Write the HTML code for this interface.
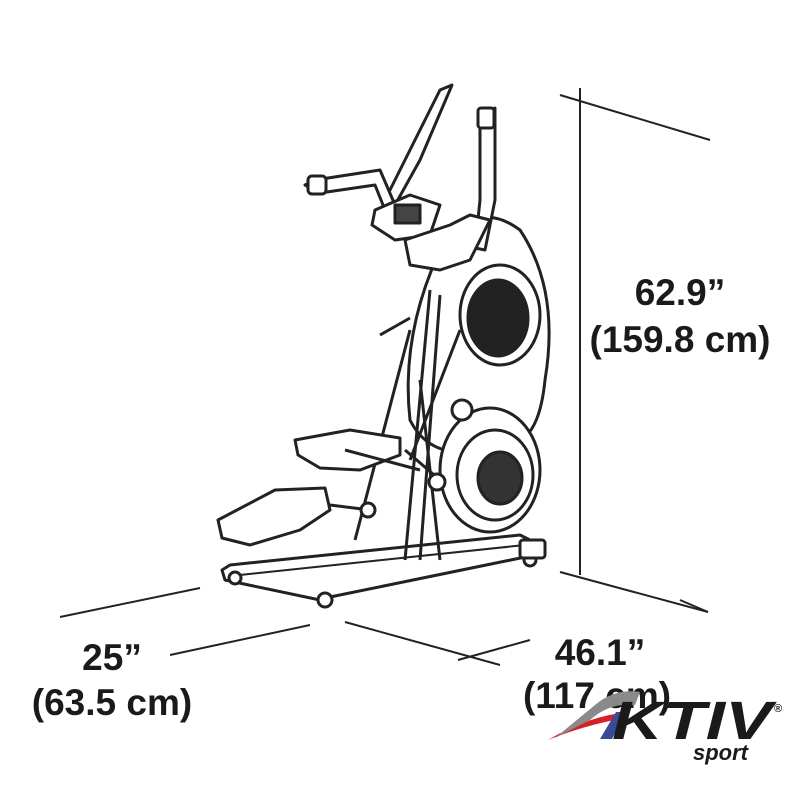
<!DOCTYPE html>
<html><head><style>
body{margin:0;background:#fff;}
svg{display:block}
text{font-family:"Liberation Sans",sans-serif;font-weight:bold;fill:#1a1a1a}
</style></head><body>
<svg width="800" height="800" viewBox="0 0 800 800" xmlns="http://www.w3.org/2000/svg">
<g stroke="#222" stroke-width="2" fill="none">
<line x1="580" y1="88" x2="580" y2="575"/>
<line x1="560" y1="95" x2="710" y2="140"/>
<line x1="560" y1="572" x2="708" y2="612"/>
<line x1="680" y1="600" x2="708" y2="612"/>
<line x1="345" y1="622" x2="500" y2="665"/>
<line x1="458" y1="660" x2="530" y2="640"/>
<line x1="60" y1="617" x2="200" y2="588"/>
<line x1="170" y1="655" x2="310" y2="625"/>
</g>
<g stroke="#222" stroke-width="3" fill="#fff" stroke-linejoin="round">
<polygon points="222,570 230,565 520,535 540,545 535,555 330,597 320,600 225,580"/>
<line x1="240" y1="575" x2="525" y2="545" stroke-width="2"/>
<circle cx="325" cy="600" r="7"/><circle cx="235" cy="578" r="6"/><circle cx="530" cy="560" r="6"/>
<rect x="520" y="540" width="25" height="18" rx="3"/>
<path d="M445 240 Q480 200 520 230 Q560 290 545 380 Q540 430 520 440 L480 450 Q430 460 410 420 Q400 330 445 240 Z"/>
<ellipse cx="500" cy="315" rx="40" ry="50"/>
<ellipse cx="498" cy="318" rx="30" ry="38" fill="#222"/>
<ellipse cx="490" cy="470" rx="50" ry="62"/>
<ellipse cx="495" cy="475" rx="38" ry="45"/>
<ellipse cx="500" cy="478" rx="22" ry="26" fill="#333"/>
<line x1="430" y1="290" x2="405" y2="560"/>
<line x1="440" y1="295" x2="420" y2="560"/>
<line x1="420" y1="380" x2="440" y2="560"/>
<line x1="460" y1="330" x2="410" y2="460"/>
<line x1="410" y1="330" x2="355" y2="540"/>
<line x1="380" y1="335" x2="410" y2="318"/>
<line x1="405" y1="450" x2="440" y2="480"/>
<circle cx="437" cy="482" r="8"/>
<circle cx="462" cy="410" r="10"/>
<path d="M440 90 L452 85 L420 160 L395 205 L385 200 L410 150 Z"/>
<path d="M305 185 L315 180 L380 170 L395 205 L385 210 L375 185 L320 193 Z"/>
<rect x="308" y="176" width="18" height="18" rx="4"/>
<path d="M480 115 L495 108 L495 200 L485 250 L475 248 L480 200 Z"/>
<rect x="478" y="108" width="16" height="20" rx="3"/>
<polygon points="375,210 410,195 440,205 430,235 395,240 372,225"/>
<rect x="395" y="205" width="25" height="18" fill="#444"/>
<path d="M405 240 L450 225 L470 215 L490 220 L470 260 L440 270 L410 265 Z"/>
<path d="M295 440 L350 430 L400 438 L400 455 L360 470 L320 468 L298 455 Z"/>
<path d="M218 520 L275 490 L325 488 L330 510 L300 530 L250 545 L222 538 Z"/>
<line x1="330" y1="505" x2="370" y2="510"/>
<circle cx="368" cy="510" r="7"/>
<line x1="345" y1="450" x2="420" y2="470"/>
</g>
<text x="680" y="305" font-size="37" font-weight="900" text-anchor="middle">62.9”</text>
<text x="680" y="352" font-size="37" font-weight="900" text-anchor="middle">(159.8 cm)</text>
<text x="112" y="670" font-size="37" font-weight="900" text-anchor="middle">25”</text>
<text x="112" y="715" font-size="37" font-weight="900" text-anchor="middle">(63.5 cm)</text>
<text x="600" y="665" font-size="37" font-weight="900" text-anchor="middle">46.1”</text>
<text x="597" y="708" font-size="37" font-weight="900" text-anchor="middle">(117 cm)</text>
<path d="M548 740 Q590 715 630 712 L625 718 Q585 725 548 740 Z" fill="#d6202a"/>
<path d="M555 738 L595 705 Q615 688 640 692 L635 705 Q610 702 590 720 Z" fill="#8a8a8a"/>
<polygon points="600,739 616,712 626,712 612,739" fill="#3a4a9a"/>
<text x="612" y="739" font-size="54" font-style="italic" font-weight="900" textLength="160" lengthAdjust="spacingAndGlyphs">KTIV</text>
<text x="774" y="712" font-size="11">®</text>
<text x="693" y="760" font-size="22" font-style="italic" font-weight="normal">sport</text>
</svg>
</body></html>
